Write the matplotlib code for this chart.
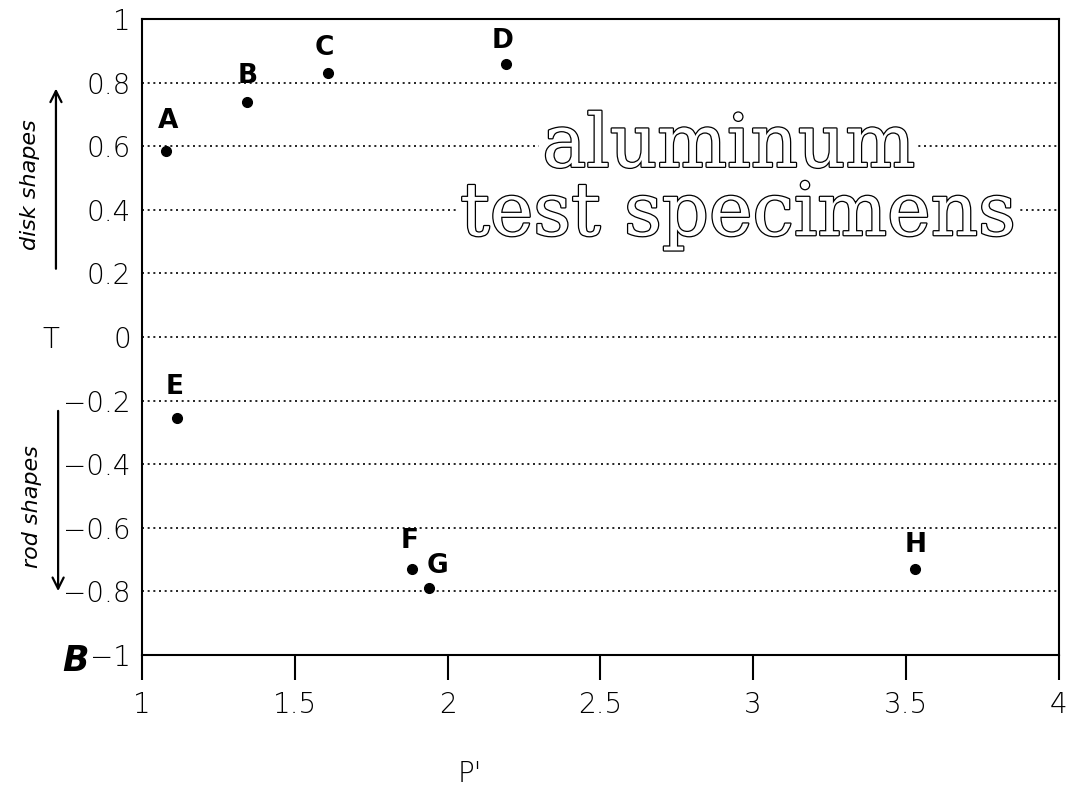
import matplotlib
matplotlib.use("Agg")
import matplotlib.pyplot as plt
import matplotlib.patheffects as pe
from matplotlib.patches import FancyArrowPatch

# specimen shape factors
specimens = ["A", "B", "C", "D", "E", "F", "G", "H"]
p_prime = [1.08, 1.345, 1.61, 2.19, 1.115, 1.885, 1.94, 3.53]
t_values = [0.585, 0.74, 0.83, 0.86, -0.255, -0.73, -0.79, -0.73]

x_ticks = [1, 1.5, 2, 2.5, 3, 3.5, 4]
x_labels = ["1", "1.5", "2", "2.5", "3", "3.5", "4"]
y_ticks = [1, 0.8, 0.6, 0.4, 0.2, 0, -0.2, -0.4, -0.6, -0.8, -1]
y_labels = ["1", "0.8", "0.6", "0.4", "0.2", "0", "\u22120.2", "\u22120.4",
            "\u22120.6", "\u22120.8", "\u22121"]

# label offsets in points (dx, dy) from each dot
label_offsets = [(1, 12), (0, 9), (-3, 9), (-2, 7), (-2, 13), (-2, 11), (6, 7), (0, 8)]

plt.rcParams["font.family"] = ["DejaVu Sans"]

fig = plt.figure(figsize=(10.76, 7.94), dpi=100)
ax = fig.add_axes([0.132, 0.175, 0.852, 0.801])

ax.set_xlim(1, 4)
ax.set_ylim(-1, 1)

for y in y_ticks:
    if abs(y) < 1:
        ax.axhline(y, color="black", linestyle=(0, (1.2, 2.2)), linewidth=1.2, zorder=1)

ax.plot(p_prime, t_values, "o", color="black", markersize=7, zorder=3)
for name, x, y, off in zip(specimens, p_prime, t_values, label_offsets):
    ax.annotate(name, (x, y), xytext=off, textcoords="offset points",
                ha="center", va="bottom", fontsize=19, fontweight="bold", zorder=4)

ax.set_xticks(x_ticks, x_labels, fontsize=20, fontweight="light")
ax.set_yticks(y_ticks, y_labels, fontsize=20, fontweight="light")
ax.tick_params(axis="x", direction="out", length=18, width=1.5, pad=8)
ax.tick_params(axis="y", length=0, pad=8)
for s in ax.spines.values():
    s.set_linewidth(1.5)

# title text with hollow serif letters
outline = [pe.Stroke(linewidth=1.8, foreground="black"), pe.Normal()]
ax.text(2.92, 0.6, "aluminum", fontsize=53, family="DejaVu Serif", color="white",
        ha="center", va="center", path_effects=outline, zorder=5,
        bbox=dict(facecolor="white", edgecolor="none", pad=2))
ax.text(2.95, 0.385, "test specimens", fontsize=53, family="DejaVu Serif", color="white",
        ha="center", va="center", path_effects=outline, zorder=5,
        bbox=dict(facecolor="white", edgecolor="none", pad=2))

# side annotations
fig.text(0.047, 0.572, "T", fontsize=20, fontweight="light", ha="center", va="center")
fig.text(0.070, 0.168, "B", fontsize=25, fontweight="bold", style="italic",
         ha="center", va="center")
fig.text(0.437, 0.025, "P'", fontsize=20, fontweight="light", ha="center", va="center")

fig.text(0.028, 0.767, "disk shapes", rotation=90, style="italic", fontsize=16,
         ha="center", va="center")
fig.text(0.030, 0.362, "rod shapes", rotation=90, style="italic", fontsize=16,
         ha="center", va="center")
fig.patches.append(FancyArrowPatch(
    (0.052, 0.658), (0.052, 0.892), transform=fig.transFigure,
    arrowstyle="->,head_length=8,head_width=4", linewidth=1.6, color="black"))
fig.patches.append(FancyArrowPatch(
    (0.054, 0.486), (0.054, 0.252), transform=fig.transFigure,
    arrowstyle="->,head_length=8,head_width=4", linewidth=1.6, color="black"))

fig.savefig("out.png", dpi=100)
